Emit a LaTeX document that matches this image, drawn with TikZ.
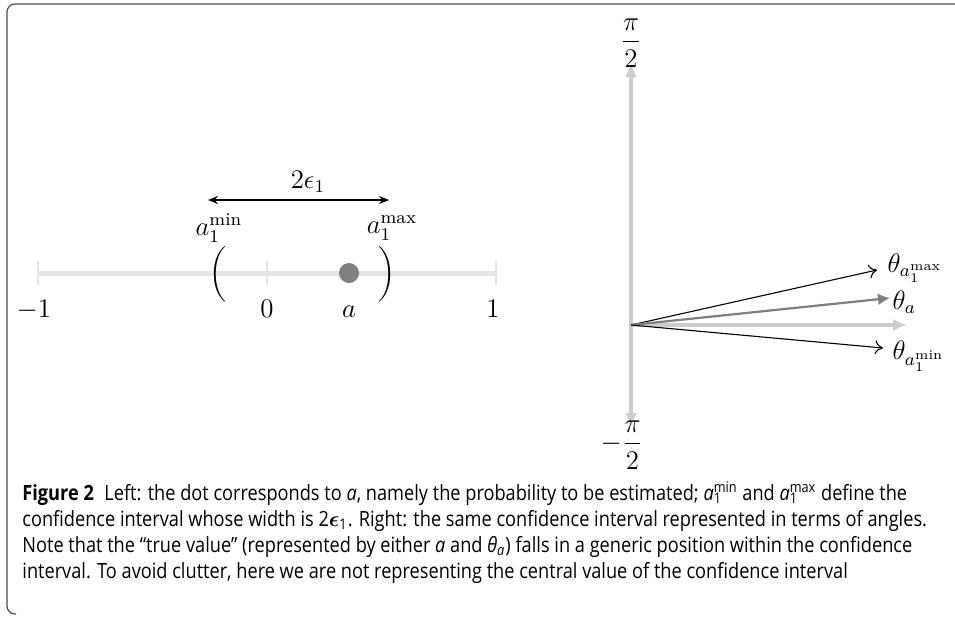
\documentclass[tikz,border=0pt]{standalone}
\usepackage{amsmath}
\usepackage{fontspec}
\newfontfamily\capfont[FakeStretch=0.866]{Open Sans}
\usetikzlibrary{arrows.meta}

\tikzset{
  mathlbl/.style={font=\fontsize{12}{14}\selectfont, scale=1.12, inner sep=1pt},
  axisbar/.style={line width=2.5pt, draw=black!10},
  tickline/.style={line width=0.6pt, draw=black!10},
  axisarrow/.style={line width=1.6pt, draw=black!20, -{Latex[length=7pt,width=6pt]}},
  boundarrow/.style={line width=0.55pt, -{To[length=4pt,width=7pt]}},
  truearrow/.style={line width=1.1pt, draw=black!50, -{Latex[length=6pt,width=6pt]}},
  dotmark/.style={circle, fill=black!50, minimum size=10pt, inner sep=0pt},
  captext/.style={font=\capfont\fontsize{10.5}{13}\selectfont, align=left, inner sep=0pt}
}

\begin{document}
\begin{tikzpicture}[x=0.5pt,y=-0.5pt]
\useasboundingbox (0,0) rectangle (955,617);

% bingkai
\draw[line width=0.6pt, draw=black!70, rounded corners=4pt]
  (16,614) -- (7,614) -- (7,4) -- (960,4);

% garis bilangan
\coordinate (L) at (38,273);
\coordinate (R) at (496,273);
\draw[axisbar] (L) -- (R);
\foreach \x in {38,267,496}
  \draw[tickline] (\x,261) -- (\x,285);

% label garis bilangan
\node[mathlbl, anchor=base] (mone) at (34,317) {$-1$};
\node[mathlbl, anchor=base] (zero) at (267,317) {$0$};
\node[mathlbl, anchor=base] (aval) at (349,317) {$a$};
\node[mathlbl, anchor=base] (one) at (493,317) {$1$};

% titik dan kurung
\node[dotmark] (adot) at (349,273) {};
\node[mathlbl, scale=0.86] (lpar) at (218,274) {$\bigg($};
\node[mathlbl, scale=0.86] (rpar) at (387,274) {$\bigg)$};
\node[mathlbl] (amin) at (219,228) {$a_1^{\min}$};
\node[mathlbl] (amax) at (392,228) {$a_1^{\max}$};

% lebar selang
\coordinate (wl) at (208,200);
\coordinate (wr) at (389,200);
\draw[line width=0.55pt, {Stealth[length=5pt,width=4pt]}-{Stealth[length=5pt,width=4pt]}] (wl) -- (wr);
\node[mathlbl] (width) at (308,182) {$2\epsilon_1$};

% sumbu sudut
\coordinate (O) at (631,325);
\coordinate (up) at (631,63);
\coordinate (down) at (631,427);
\coordinate (east) at (907,325);
\draw[axisarrow] (O) -- (up);
\draw[axisarrow] (O) -- (down);
\draw[axisarrow] (O) -- (east);
\node[mathlbl] (pihi) at (631,43) {$\dfrac{\pi}{2}$};
\node[mathlbl] (pilo) at (622,445) {$-\dfrac{\pi}{2}$};

% sudut
\coordinate (tmax) at (877,270);
\coordinate (ta) at (890,298);
\coordinate (tmin) at (883,348);
\draw[boundarrow] (O) -- (tmax);
\draw[truearrow] (O) -- (ta);
\draw[boundarrow] (O) -- (tmin);
\node[mathlbl, anchor=west] (lmax) at (885,268) {$\theta_{a_1^{\max}}$};
\node[mathlbl, anchor=west] (la) at (890,302) {$\theta_a$};
\node[mathlbl, anchor=west] (lmin) at (890,356) {$\theta_{a_1^{\min}}$};

% keterangan
\node[captext, anchor=north west] (cap) at (22,481) {%
  \textbf{Figure 2}\enspace Left: the dot corresponds to \textit{a}, namely the probability to be estimated; \textit{a}\rlap{\textsubscript{1}}\textsuperscript{min} and \textit{a}\rlap{\textsubscript{1}}\textsuperscript{max} define the\\
  confidence interval whose width is 2$\boldsymbol{\epsilon}$\textsubscript{1}. Right: the same confidence interval represented in terms of angles.\\
  Note that the “true value” (represented by either \textit{a} and \textit{θ}\textsubscript{\textit{a}}) falls in a generic position within the confidence\\
  interval. To avoid clutter, here we are not representing the central value of the confidence interval};

\end{tikzpicture}
\end{document}
